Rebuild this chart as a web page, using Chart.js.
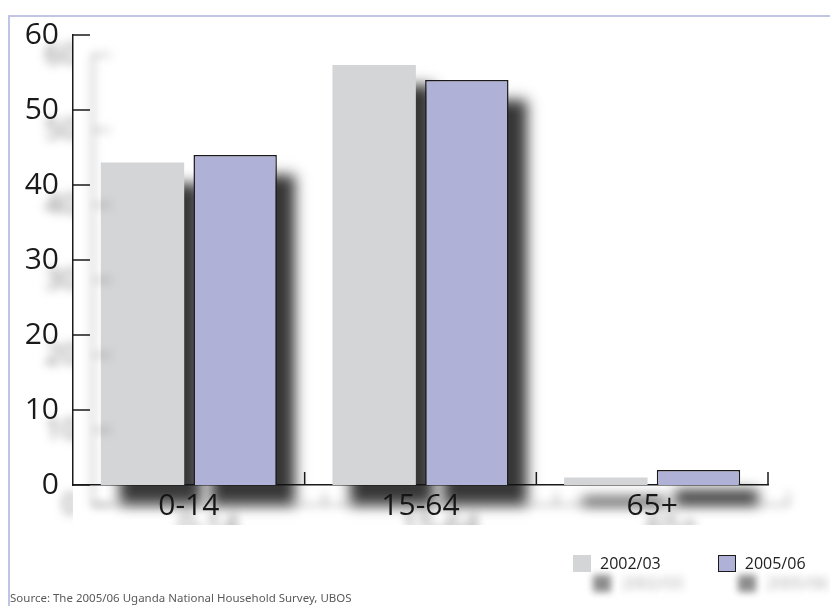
<!DOCTYPE html>
<html>
<head>
<meta charset="utf-8">
<script src="https://cdn.jsdelivr.net/npm/chart.js@4.4.0/dist/chart.umd.min.js"></script>
<style>
  html, body { margin: 0; padding: 0; background: #fff; }
  #wrap { position: relative; width: 830px; height: 606px; overflow: hidden; }
  #frame { position: absolute; left: 8px; top: 15px; width: 840px; height: 610px;
    border-top: 2px solid #c2c4e3; border-left: 2px solid #c2c4e3; }
  #chart { position: absolute; left: 0; top: 0; }
  #legend { position: absolute; left: 573px; top: 555px; display: flex; gap: 57px;
    font: 16px 'Open Sans', sans-serif; color: #222; }
  #legend .item { display: flex; align-items: center; height: 17px; }
  #legend .box { width: 18px; height: 17px; box-sizing: border-box; margin-right: 9px;
    box-shadow: 20px 20px 7px rgba(0,0,0,0.45); }
  #legend span { text-shadow: 22px 20px 8px rgba(0,0,0,0.4); line-height: 17px; }
  #source { position: absolute; left: 10px; top: 590px; font: 11.5px 'Noto Sans', sans-serif;
    color: #5a5a5a; white-space: nowrap; }
</style>
</head>
<body>
<div id="wrap">
  <div id="frame"></div>
  <canvas id="chart" width="830" height="606"></canvas>
  <div id="legend"></div>
  <div id="source">Source: The 2005/06 Uganda National Household Survey, UBOS</div>
</div>
<script>
const categories = ['0-14', '15-64', '65+']
const seriesNames = ['2002/03', '2005/06']
const values0203 = [43, 56, 1]
const values0506 = [44, 54, 2]
const yTicks = [0, 10, 20, 30, 40, 50, 60]

const gray = '#d4d5d7'
const lavender = '#afb1d7'
const ink = '#1a1a1a'

// shadows: faint ghost for axes/text, dark drop shadow under the bars
const shadows = {
  id: 'shadows',
  beforeDraw (chart) {
    const c = chart.ctx
    c.save()
    c.shadowColor = 'rgba(0,0,0,0.5)'
    c.shadowBlur = 10
    c.shadowOffsetX = 20
    c.shadowOffsetY = 20
  },
  beforeDatasetsDraw (chart) {
    const c = chart.ctx
    c.save()
    // draw the rects far off canvas so only their shadow lands
    const far = 5000
    c.shadowColor = 'rgba(20,20,20,0.85)'
    c.shadowBlur = 13
    c.shadowOffsetX = far + 18
    c.shadowOffsetY = 20
    c.fillStyle = '#000'
    chart.data.datasets.forEach((ds, i) => {
      chart.getDatasetMeta(i).data.forEach(bar => {
        const p = bar.getProps(['x', 'y', 'base', 'width'], true)
        const top = Math.min(p.y, p.base)
        c.fillRect(p.x - p.width / 2 - far, top, p.width, Math.abs(p.base - p.y))
      })
    })
    c.shadowColor = 'rgba(0,0,0,0)'
    c.shadowBlur = 0
    c.shadowOffsetX = 0
    c.shadowOffsetY = 0
  },
  afterDatasetsDraw (chart) {
    chart.ctx.restore()
  },
  afterDraw (chart) {
    // tick marks pointing into the plot
    const c = chart.ctx
    const x = chart.scales.x
    const y = chart.scales.y
    c.strokeStyle = ink
    c.lineWidth = 1.5
    c.beginPath()
    yTicks.forEach(v => {
      const py = y.getPixelForValue(v)
      c.moveTo(x.left, py)
      c.lineTo(x.left + 17, py)
    })
    const step = x.width / categories.length
    categories.forEach((cat, i) => {
      const px = x.left + step * (i + 1)
      c.moveTo(px, y.bottom)
      c.lineTo(px, y.bottom - 13)
    })
    c.stroke()
    c.restore()
  }
}

const tickFont = { family: 'Open Sans', size: 30 }

new Chart(document.getElementById('chart'), {
  type: 'bar',
  data: {
    labels: categories,
    datasets: [
      { label: seriesNames[0], data: values0203, backgroundColor: gray, borderWidth: 0 },
      { label: seriesNames[1], data: values0506, backgroundColor: lavender, borderColor: ink, borderWidth: 1.5 }
    ]
  },
  options: {
    responsive: false,
    animation: false,
    devicePixelRatio: 1,
    layout: { padding: { left: 10, right: 62, top: 35, bottom: 81 } },
    plugins: { legend: { display: false }, tooltip: { enabled: false } },
    scales: {
      x: {
        z: 1,
        grid: { display: false, drawTicks: false },
        border: { color: ink, width: 1.5 },
        ticks: { font: tickFont, color: ink, padding: 3 },
        afterFit: s => { s.height = 40 }
      },
      y: {
        z: 1,
        min: 0,
        max: 60,
        afterBuildTicks: s => { s.ticks = yTicks.map(v => ({ value: v })) },
        grid: { display: false, drawTicks: false },
        border: { color: ink, width: 1.5 },
        ticks: { font: tickFont, color: ink, padding: 14 },
        afterFit: s => { s.width = 63 }
      }
    }
  },
  plugins: [shadows]
})

const legend = document.getElementById('legend')
seriesNames.forEach((name, i) => {
  const item = document.createElement('div')
  item.className = 'item'
  const box = document.createElement('div')
  box.className = 'box'
  box.style.background = i === 0 ? gray : lavender
  if (i === 1) box.style.border = '1px solid ' + ink
  const label = document.createElement('span')
  label.textContent = name
  item.appendChild(box)
  item.appendChild(label)
  legend.appendChild(item)
})
</script>
</body>
</html>
